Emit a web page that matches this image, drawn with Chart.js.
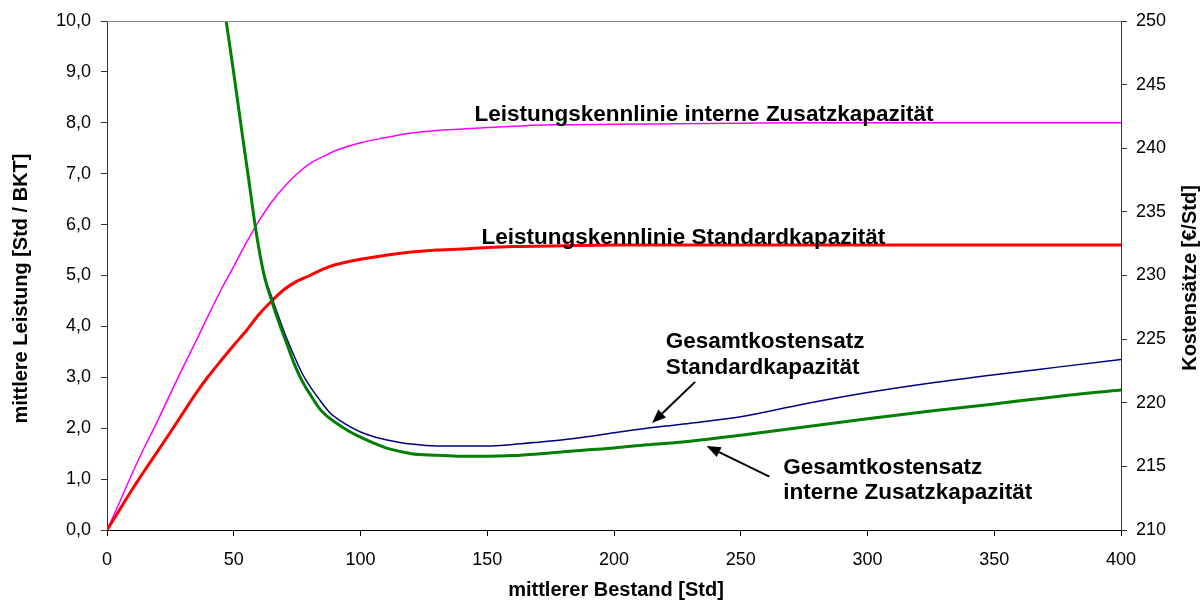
<!DOCTYPE html>
<html>
<head>
<meta charset="utf-8">
<title>Leistungskennlinien und Gesamtkostensätze</title>
<script src="https://cdn.jsdelivr.net/npm/chart.js@4/dist/chart.umd.min.js"></script>
<style>
  html, body { margin: 0; padding: 0; background: #fff; }
  #wrap { width: 1200px; height: 603px; position: relative; }
</style>
</head>
<body>
<div id="wrap"><canvas id="chart"></canvas></div>
<script>
// mittlerer Bestand [Std] for the two performance curves
const perfStock = [0, 5, 10, 15, 20, 25, 30, 35, 40, 45, 50, 55, 60, 65, 70, 75, 80, 85, 90, 95,
  100, 110, 120, 130, 140, 150, 160, 175, 200, 225, 250, 275, 300, 350, 400];
// mittlere Leistung [Std / BKT] – interne Zusatzkapazität
const perfZusatz = [0, 0.55, 1.12, 1.65, 2.15, 2.68, 3.2, 3.7, 4.22, 4.72, 5.18, 5.65, 6.08, 6.45, 6.75, 7.0, 7.2, 7.33, 7.45, 7.54,
  7.61, 7.71, 7.8, 7.85, 7.88, 7.91, 7.93, 7.96, 7.97, 7.98, 7.99, 8.0, 8.0, 8.0, 8.0];
// mittlere Leistung [Std / BKT] – Standardkapazität
const perfStandard = [0, 0.4, 0.8, 1.18, 1.55, 1.92, 2.3, 2.68, 3.02, 3.33, 3.63, 3.92, 4.24, 4.5, 4.73, 4.89, 5.0, 5.12, 5.21, 5.27,
  5.32, 5.4, 5.46, 5.5, 5.52, 5.55, 5.57, 5.58, 5.6, 5.6, 5.6, 5.6, 5.6, 5.6, 5.6];

// mittlerer Bestand [Std] for the two cost curves
const costStock = [47, 50, 53, 56, 59, 62, 65, 68, 71, 74, 77, 80, 84, 88, 92, 96, 100, 105, 110, 115, 120,
  130, 140, 150, 160, 170, 180, 190, 200, 213, 226, 250, 275, 300, 325, 350, 375, 400];
// Gesamtkostensatz [€/Std] – interne Zusatzkapazität
const costZusatz = [250, 245.9, 241.6, 237.4, 233.2, 230.0, 228.0, 226.2, 224.6, 223.0, 221.7, 220.7, 219.5, 218.75, 218.2, 217.7, 217.3, 216.85, 216.45, 216.2, 216.0,
  215.88, 215.8, 215.8, 215.85, 215.98, 216.15, 216.3, 216.45, 216.7, 216.9, 217.45, 218.1, 218.75, 219.35, 219.9, 220.5, 221.0];
// Gesamtkostensatz [€/Std] – Standardkapazität
const costStandard = [250, 245.9, 241.6, 237.4, 233.2, 230.1, 228.3, 226.6, 225.0, 223.6, 222.3, 221.3, 220.2, 219.2, 218.6, 218.1, 217.7, 217.35, 217.1, 216.9, 216.75,
  216.6, 216.6, 216.6, 216.72, 216.9, 217.1, 217.35, 217.65, 218.0, 218.3, 218.9, 219.9, 220.8, 221.55, 222.2, 222.8, 223.4];

// axis ranges and tick steps
const stockRange = [0, 400, 50];
const perfRange = [0, 10, 1];
const costRange = [210, 250, 5];

const FONT = '"Liberation Sans", Arial, Helvetica, sans-serif';
const toPoints = (xs, ys) => xs.map((x, i) => ({ x: x, y: ys[i] }));
const decimalComma = v => Number(v).toFixed(1).replace('.', ',');

// curve captions, anchored in data units of the x axis and left axis (baseline of first line)
const captions = [
  { lines: ['Leistungskennlinie interne Zusatzkapazität'], x: 145.0, y: 8.03 },
  { lines: ['Leistungskennlinie Standardkapazität'], x: 147.7, y: 5.61 },
  { lines: ['Gesamtkostensatz', 'Standardkapazität'], x: 220.4, y: 3.57 },
  { lines: ['Gesamtkostensatz', 'interne Zusatzkapazität'], x: 266.8, y: 1.11 }
];
// pointer arrows from caption to curve
const pointers = [
  { from: [232.0, 2.91], to: [215.0, 2.10] },
  { from: [261.3, 1.05], to: [236.5, 1.65] }
];

const decorations = {
  id: 'decorations',
  afterDraw(chart) {
    const { ctx, chartArea: a, scales } = chart;
    const px = v => scales.x.getPixelForValue(v);
    const py = v => scales.y.getPixelForValue(v);
    ctx.save();

    // upper frame edge of the plot area
    ctx.strokeStyle = '#8a8a8a';
    ctx.lineWidth = 1;
    ctx.beginPath();
    ctx.moveTo(a.left, Math.round(a.top) + 0.5);
    ctx.lineTo(a.right, Math.round(a.top) + 0.5);
    ctx.stroke();

    // captions
    ctx.fillStyle = '#000';
    ctx.font = 'bold 22.5px ' + FONT;
    ctx.textAlign = 'left';
    ctx.textBaseline = 'alphabetic';
    captions.forEach(c => {
      c.lines.forEach((t, i) => ctx.fillText(t, px(c.x), py(c.y) + i * 25.5));
    });

    // arrows
    ctx.strokeStyle = '#000';
    ctx.lineWidth = 2;
    pointers.forEach(p => {
      const x0 = px(p.from[0]), y0 = py(p.from[1]);
      const x1 = px(p.to[0]), y1 = py(p.to[1]);
      const ang = Math.atan2(y1 - y0, x1 - x0);
      const len = 14, half = 5.5;
      const bx = x1 - len * Math.cos(ang), by = y1 - len * Math.sin(ang);
      ctx.beginPath();
      ctx.moveTo(x0, y0);
      ctx.lineTo(bx, by);
      ctx.stroke();
      ctx.beginPath();
      ctx.moveTo(x1, y1);
      ctx.lineTo(bx + half * Math.sin(ang), by - half * Math.cos(ang));
      ctx.lineTo(bx - half * Math.sin(ang), by + half * Math.cos(ang));
      ctx.closePath();
      ctx.fill();
    });

    // axis titles
    ctx.font = 'bold 20px ' + FONT;
    ctx.textAlign = 'center';
    ctx.textBaseline = 'middle';
    ctx.fillText('mittlerer Bestand [Std]', (a.left + a.right) / 2 + 2, 590);

    ctx.save();
    ctx.translate(21, 288.5);
    ctx.rotate(-Math.PI / 2);
    ctx.fillText('mittlere Leistung [Std / BKT]', 0, 0);
    ctx.restore();

    ctx.save();
    ctx.translate(1190, 278);
    ctx.rotate(-Math.PI / 2);
    ctx.fillText('Kostensätze [€/Std]', 0, 0);
    ctx.restore();

    ctx.restore();
  }
};

const tickFont = { family: FONT, size: 18 };

new Chart(document.getElementById('chart'), {
  type: 'line',
  data: {
    datasets: [
      {
        label: 'Gesamtkostensatz interne Zusatzkapazität',
        data: toPoints(costStock, costZusatz),
        yAxisID: 'y2',
        borderColor: '#008000',
        borderWidth: 3
      },
      {
        label: 'Gesamtkostensatz Standardkapazität',
        data: toPoints(costStock, costStandard),
        yAxisID: 'y2',
        borderColor: '#000080',
        borderWidth: 1.5
      },
      {
        label: 'Leistungskennlinie Standardkapazität',
        data: toPoints(perfStock, perfStandard),
        yAxisID: 'y',
        borderColor: '#ff0000',
        borderWidth: 3
      },
      {
        label: 'Leistungskennlinie interne Zusatzkapazität',
        data: toPoints(perfStock, perfZusatz),
        yAxisID: 'y',
        borderColor: '#ff00ff',
        borderWidth: 1.5
      }
    ]
  },
  options: {
    responsive: true,
    maintainAspectRatio: false,
    animation: false,
    layout: { padding: { top: 21, left: 0, right: 0, bottom: 0 } },
    elements: {
      point: { radius: 0, hoverRadius: 0 },
      line: { fill: false, cubicInterpolationMode: 'monotone', borderCapStyle: 'round', borderJoinStyle: 'round' }
    },
    plugins: {
      legend: { display: false },
      tooltip: { enabled: false }
    },
    events: [],
    scales: {
      x: {
        type: 'linear',
        position: 'bottom',
        min: stockRange[0], max: stockRange[1],
        afterFit: s => { s.height = 73; },
        grid: { display: true, drawOnChartArea: false, drawTicks: true, tickLength: 6, color: '#000', lineWidth: 1 },
        border: { display: true, color: '#000', width: 1 },
        ticks: { stepSize: stockRange[2], font: tickFont, color: '#000', padding: 13, maxRotation: 0 }
      },
      y: {
        type: 'linear',
        position: 'left',
        min: perfRange[0], max: perfRange[1],
        afterFit: s => { s.width = 107; },
        grid: { display: true, drawOnChartArea: false, drawTicks: true, tickLength: 6, color: '#333', lineWidth: 1 },
        border: { display: true, color: '#333', width: 1 },
        ticks: { stepSize: perfRange[2], font: tickFont, color: '#000', padding: 10, callback: decimalComma }
      },
      y2: {
        type: 'linear',
        position: 'right',
        min: costRange[0], max: costRange[1],
        afterFit: s => { s.width = 79; },
        grid: { display: true, drawOnChartArea: false, drawTicks: true, tickLength: 6, color: '#333', lineWidth: 1 },
        border: { display: true, color: '#333', width: 1 },
        ticks: { stepSize: costRange[2], font: tickFont, color: '#000', padding: 9 }
      }
    }
  },
  plugins: [decorations]
});
</script>
</body>
</html>
